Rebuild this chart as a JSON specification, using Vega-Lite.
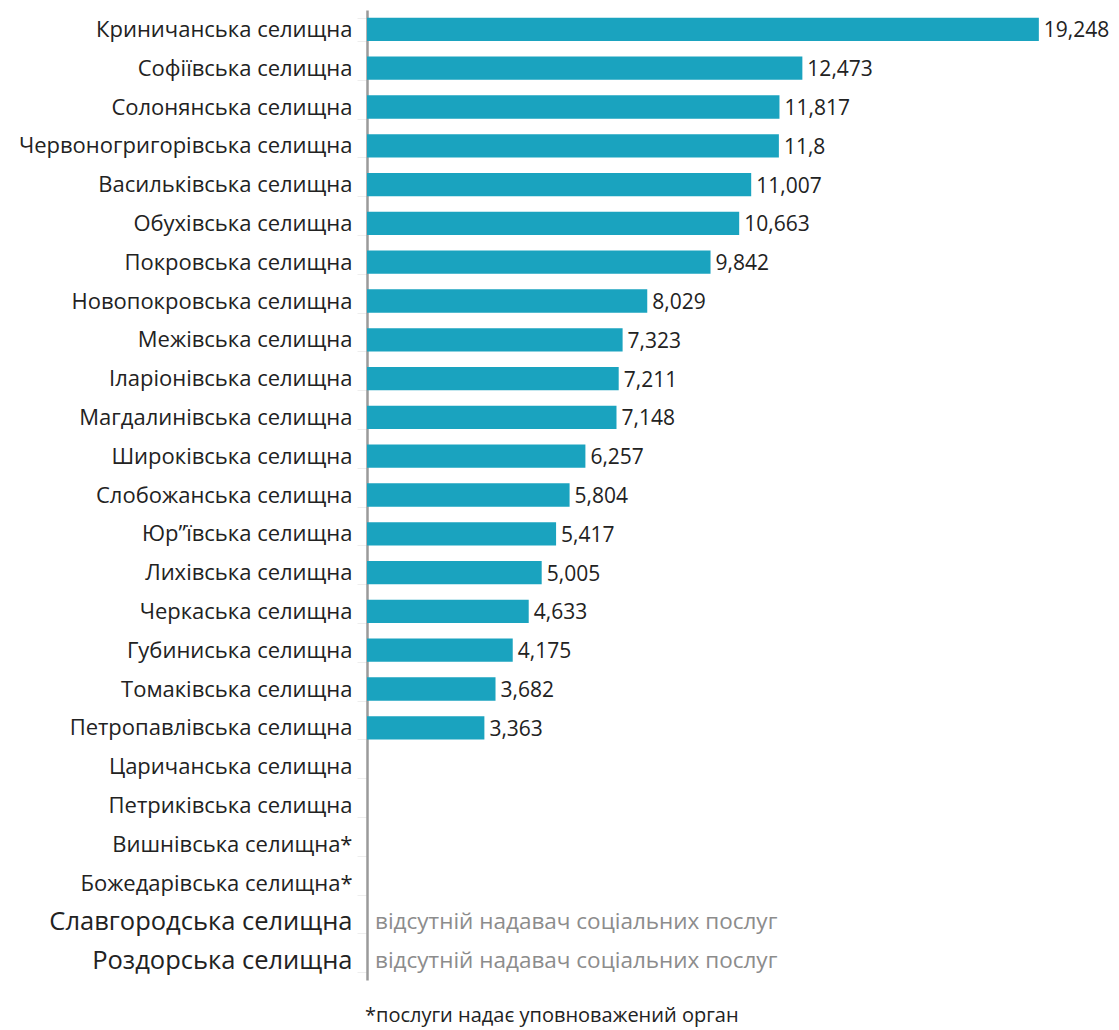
{
  "$schema": "https://vega.github.io/schema/vega-lite/v6.json",
  "autosize": "none",
  "width": 733,
  "height": 970,
  "padding": {"left": 367, "top": 10, "right": 19, "bottom": 50},
  "background": "white",
  "config": {
    "view": {"stroke": null},
    "font": "Open Sans",
    "locale": {"number": {"decimal": ",", "thousands": " ", "grouping": [3], "currency": ["", ""]}}
  },
  "title": {
    "text": "*послуги надає уповноважений орган",
    "orient": "bottom",
    "anchor": "start",
    "frame": "group",
    "dx": -2,
    "offset": 26,
    "fontSize": 20,
    "fontWeight": "normal",
    "color": "#222222",
    "font": "Open Sans"
  },
  "data": {
    "values": [
      {"name": "Криничанська селищна", "value": 19.248},
      {"name": "Софіївська селищна", "value": 12.473},
      {"name": "Солонянська селищна", "value": 11.817},
      {"name": "Червоногригорівська селищна", "value": 11.8},
      {"name": "Васильківська селищна", "value": 11.007},
      {"name": "Обухівська селищна", "value": 10.663},
      {"name": "Покровська селищна", "value": 9.842},
      {"name": "Новопокровська селищна", "value": 8.029},
      {"name": "Межівська селищна", "value": 7.323},
      {"name": "Іларіонівська селищна", "value": 7.211},
      {"name": "Магдалинівська селищна", "value": 7.148},
      {"name": "Широківська селищна", "value": 6.257},
      {"name": "Слобожанська селищна", "value": 5.804},
      {"name": "Юр”ївська селищна", "value": 5.417},
      {"name": "Лихівська селищна", "value": 5.005},
      {"name": "Черкаська селищна", "value": 4.633},
      {"name": "Губиниська селищна", "value": 4.175},
      {"name": "Томаківська селищна", "value": 3.682},
      {"name": "Петропавлівська селищна", "value": 3.363},
      {"name": "Царичанська селищна", "value": null},
      {"name": "Петриківська селищна", "value": null},
      {"name": "Вишнівська селищна*", "value": null},
      {"name": "Божедарівська селищна*", "value": null},
      {"name": "Славгородська селищна", "value": null, "note": "відсутній надавач соціальних послуг"},
      {"name": "Роздорська селищна", "value": null, "note": "відсутній надавач соціальних послуг"}
    ]
  },
  "encoding": {
    "y": {
      "field": "name",
      "type": "nominal",
      "sort": null,
      "scale": {
        "paddingInner": 0.4,
        "paddingOuter": 0.2,
        "domain": ["Криничанська селищна", "Софіївська селищна", "Солонянська селищна", "Червоногригорівська селищна", "Васильківська селищна", "Обухівська селищна", "Покровська селищна", "Новопокровська селищна", "Межівська селищна", "Іларіонівська селищна", "Магдалинівська селищна", "Широківська селищна", "Слобожанська селищна", "Юр”ївська селищна", "Лихівська селищна", "Черкаська селищна", "Губиниська селищна", "Томаківська селищна", "Петропавлівська селищна", "Царичанська селищна", "Петриківська селищна", "Вишнівська селищна*", "Божедарівська селищна*", "Славгородська селищна", "Роздорська селищна"]
      },
      "axis": {
        "title": null,
        "domainColor": "#9a9a9a",
        "domainWidth": 2.5,
        "ticks": true,
        "tickColor": "#eeeeee",
        "tickSize": 10,
        "tickWidth": 1,
        "tickBand": "extent",
        "labelPadding": 5,
        "labelFont": "Open Sans",
        "labelFontSize": {"condition": {"test": "datum.value === 'Славгородська селищна' || datum.value === 'Роздорська селищна'", "value": 25.5}, "value": 22},
        "labelColor": "#222222",
        "labelLimit": 400
      }
    }
  },
  "layer": [
    {
      "mark": {"type": "bar", "color": "#1aa3bf"},
      "encoding": {
        "x": {
          "field": "value",
          "type": "quantitative",
          "scale": {"domain": [0, 21], "nice": false},
          "axis": null
        }
      }
    },
    {
      "mark": {"type": "text", "align": "left", "baseline": "middle", "dx": 5, "dy": 2, "fontSize": 21, "color": "#222222", "font": "Open Sans"},
      "encoding": {
        "x": {"field": "value", "type": "quantitative"},
        "text": {"field": "value", "type": "quantitative", "format": ".3~f"}
      }
    },
    {
      "transform": [{"filter": "datum.note != null"}],
      "mark": {"type": "text", "align": "left", "baseline": "middle", "dx": 8, "fontSize": 22.5, "color": "#8c8c8c", "font": "Open Sans"},
      "encoding": {
        "x": {"datum": 0, "type": "quantitative"},
        "text": {"field": "note"}
      }
    }
  ]
}
